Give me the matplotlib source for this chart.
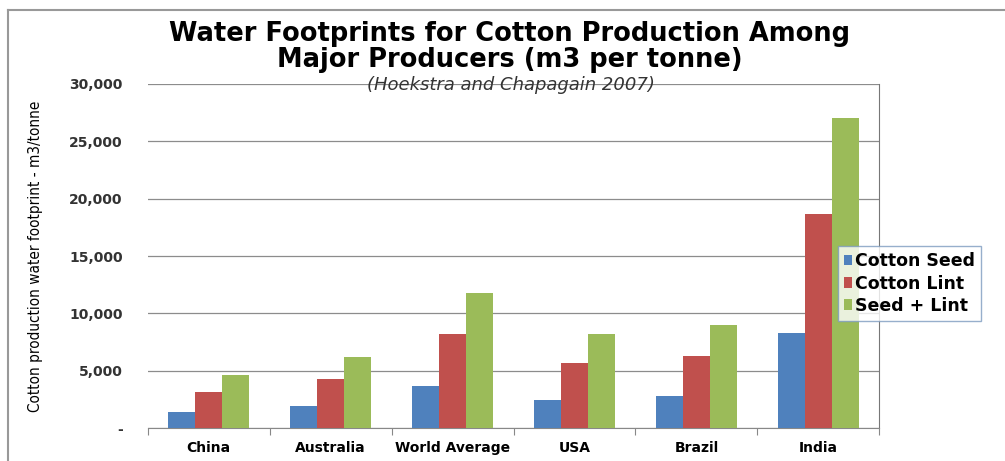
import matplotlib
matplotlib.use('Agg')
import matplotlib.pyplot as plt
import matplotlib.ticker as ticker
import numpy as np

categories = ['China', 'Australia', 'World Average', 'USA', 'Brazil', 'India']
cotton_seed = [1400, 1900, 3700, 2500, 2800, 8300]
cotton_lint = [3200, 4300, 8200, 5700, 6300, 18700]
seed_lint = [4600, 6200, 11800, 8200, 9000, 27000]
series_names = ['Cotton Seed', 'Cotton Lint', 'Seed + Lint']
y_ticks = [0, 5000, 10000, 15000, 20000, 25000, 30000]

colorArray = ['#4F81BD', '#C0504D', '#9BBB59']

fig = plt.figure(figsize=(10.05, 4.61), dpi=100)
ax = fig.add_axes([0.147, 0.071, 0.728, 0.747])

x = np.arange(len(categories))
width = 0.22
for i, vals in enumerate([cotton_seed, cotton_lint, seed_lint]):
    ax.bar(x + (i - 1) * width, vals, width, color=colorArray[i], label=series_names[i], zorder=3)

ax.set_xlim(-0.5, len(categories) - 0.5)
ax.set_ylim(0, 30000)
ax.set_yticks(y_ticks)
ax.yaxis.set_major_formatter(ticker.FuncFormatter(lambda v, p: '-' if v == 0 else '{:,.0f}'.format(v)))
ax.grid(axis='y', color='#8c8c8c', linewidth=0.9, zorder=0)
ax.tick_params(axis='y', length=0, pad=18, labelsize=10)
for lbl in ax.get_yticklabels():
    lbl.set_fontweight('bold')
    lbl.set_color('#333333')

# category separators as major ticks, names as minor tick labels
ax.set_xticks(np.arange(-0.5, len(categories)), minor=False)
ax.set_xticklabels([])
ax.set_xticks(x, minor=True)
ax.set_xticklabels(categories, minor=True, fontsize=10, fontweight='bold')
ax.tick_params(axis='x', which='major', length=5, direction='out', color='#888888')
ax.tick_params(axis='x', which='minor', length=0, pad=9)

for side in ['top', 'left']:
    ax.spines[side].set_visible(False)
ax.spines['bottom'].set_color('#888888')
ax.spines['right'].set_color('#777777')

ax.set_ylabel('Cotton production water footprint - m3/tonne', fontsize=11,
              fontstretch='condensed')
ax.yaxis.set_label_coords(-0.143, 0.5)

leg = ax.legend(loc='upper left', bbox_to_anchor=(0.943, 0.529), borderaxespad=0,
                frameon=True, fancybox=False, handlelength=0.45, handleheight=0.55,
                handletextpad=0.2, borderpad=0.35, labelspacing=0.25,
                prop={'weight': 'bold', 'size': 12.5})
leg.get_frame().set_edgecolor('#7d9bc0')
leg.get_frame().set_linewidth(1.0)

fig.text(0.507, 0.911, 'Water Footprints for Cotton Production Among', ha='center', va='baseline',
         fontsize=18.5, fontweight='bold')
fig.text(0.507, 0.855, 'Major Producers (m3 per tonne)', ha='center', va='baseline',
         fontsize=18.5, fontweight='bold')
fig.text(0.508, 0.805, '(Hoekstra and Chapagain 2007)', ha='center', va='baseline',
         fontsize=13, style='italic', color='#333333')

# outer frame
fig.add_artist(plt.Line2D([0.008, 1.0], [0.978, 0.978], color='#999999', linewidth=1.5))
fig.add_artist(plt.Line2D([0.008, 0.008], [0.0, 0.978], color='#999999', linewidth=1.5))

fig.savefig('out.png', dpi=100)
